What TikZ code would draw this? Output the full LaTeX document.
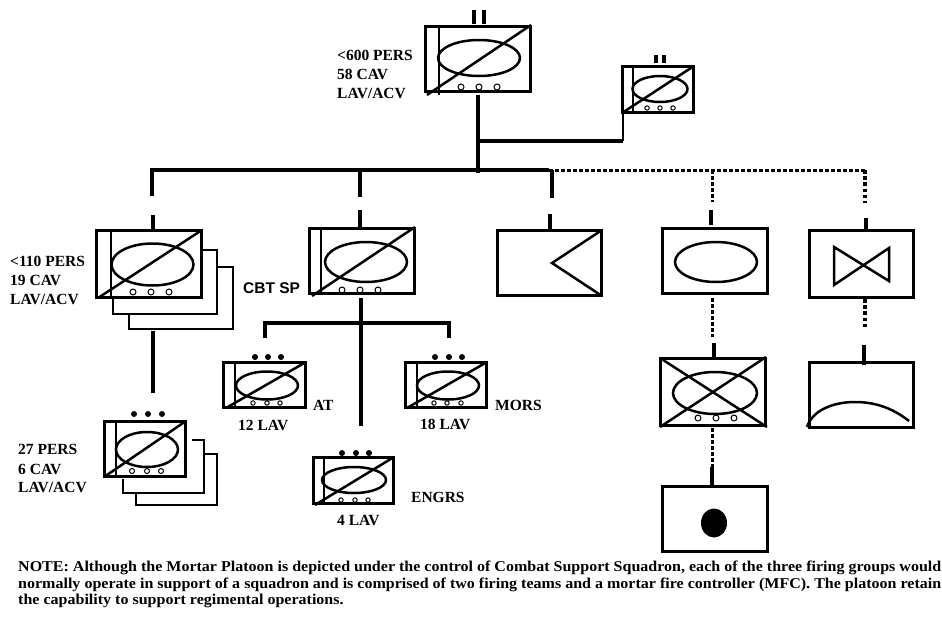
\documentclass[tikz,border=0pt]{standalone}
\usepackage{fontspec}
\setmainfont{Liberation Serif}
\newfontfamily\cbtfont{Liberation Sans}
\newcommand{\mkbox}[6][3]{%
  \node[unitframe,line width=#1pt,minimum width={(#5-#3-1)*1pt},minimum height={(#6-#4-1)*1pt}] (#2) at ({(#3+#5)/2},{(#4+#6)/2}) {};}
\newcommand{\mkoval}[4]{\draw[sym] (#1,#2) ellipse [x radius=#3,y radius=#4];}
\newcommand{\mkwheels}[5]{\foreach \wx in {#2,#3,#4}{\draw[wheel] (\wx,#1) circle [radius=#5];}}
\newcommand{\mkdots}[4]{\foreach \wx in {#2,#3,#4}{\fill (\wx,#1) circle [radius=3];}}
\tikzset{
  unitframe/.style={draw=black,rectangle,inner sep=0pt,outer sep=0pt},
  sym/.style={draw=black,line width=2.5pt},
  wheel/.style={draw=black,line width=1pt},
  backline/.style={draw=black,line width=2.4pt},
  solidlink/.style={draw=black,line width=3.4pt},
  dotlink/.style={draw=black,line width=3pt,dash pattern=on 3.6pt off 2.4pt},
  dotlinkb/.style={draw=black,line width=3.8pt,dash pattern=on 3.6pt off 2.6pt},
  lab/.style={anchor=west,inner sep=0pt,font=\fontsize{15.5}{17}\selectfont\bfseries},
  notelab/.style={anchor=west,inner sep=0pt,font=\fontsize{15}{16}\selectfont\bfseries},
}
\begin{document}
\begin{tikzpicture}[x=1pt,y=-1pt]
\useasboundingbox (0,0) rectangle (942,616);
% regimental HQ
\mkbox{reg}{425}{26}{531}{92}
\draw[sym] (439,26) -- (439,95);
\draw[sym] (427,95) -- (531,25);
\mkoval{479}{58}{41}{18}
\mkwheels{87}{461}{479}{497}{3}
\draw[line width=3.4pt] (474,10) -- (474,24) (484,10) -- (484,24);
% small HQ
\mkbox{rhq}{622}{66}{694}{113}
\draw[sym] (633,66) -- (633,113);
\draw[sym] (622,113) -- (694,66);
\mkoval{660}{89}{27.5}{13}
\mkwheels{108}{647}{660}{673}{2.2}
\draw[line width=3.2pt] (656,55) -- (656,63) (664,55) -- (664,63);
% squadron
\draw[backline] (202,250) -- (217,250) -- (217,314) -- (113,314) -- (113,298);
\draw[backline] (217,267) -- (233,267) -- (233,329) -- (129,329) -- (129,314);
\mkbox{sqn}{96}{230}{202}{298}
\draw[sym] (111,230) -- (111,298);
\draw[sym] (98,298) -- (202,230);
\mkoval{152.5}{264.5}{41}{21}
\mkwheels{292}{133}{151}{169}{3}
% troop
\draw[backline] (192,440) -- (204,440) -- (204,493) -- (123,493) -- (123,479);
\draw[backline] (204,454) -- (217,454) -- (217,505) -- (136,505) -- (136,493);
\mkbox{trp}{104}{421}{186}{477}
\draw[sym] (116,421) -- (116,477);
\draw[sym] (104,477) -- (186,421);
\mkoval{147}{449.5}{31}{17.5}
\mkwheels{471}{132}{147}{161}{2.5}
\mkdots{414}{134}{148}{162}{3}
% combat support
\mkbox{cbt}{309}{228}{415}{294}
\draw[sym] (321,228) -- (321,294);
\draw[sym] (312,296) -- (415,227);
\mkoval{366}{262}{41}{20}
\mkwheels{290}{342}{360}{378}{3}
% AT
\mkbox{at}{223}{362}{306}{408}
\draw[sym] (235,362) -- (235,408);
\draw[sym] (226,408) -- (306,362);
\mkoval{267}{385.5}{31}{14}
\mkwheels{403}{253}{267}{280}{2.2}
\mkdots{357}{255}{268}{281}{3}
% MORS
\mkbox{mors}{405}{362}{487}{408}
\draw[sym] (417,362) -- (417,408);
\draw[sym] (407,408) -- (487,362);
\mkoval{448}{385.5}{31}{14}
\mkwheels{403}{434}{447}{461}{2.2}
\mkdots{357}{435}{449}{462}{3}
% ENGRS
\mkbox{eng}{313}{457}{394}{504}
\draw[sym] (324,457) -- (324,504);
\draw[sym] (315,505) -- (394,457);
\mkoval{354}{480}{32}{13}
\mkwheels{500}{341}{355}{368}{2.2}
\mkdots{453}{342}{356}{369}{3}
% triangle box
\mkbox{tri}{497}{230}{602}{296}
\draw[sym] (602,230) -- (552,263) -- (602,296);
% oval box
\mkbox{ovl}{662}{228}{768}{294}
\mkoval{716}{262}{41}{20}
% crossed box
\mkbox{crs}{660}{358}{766}{426}
\draw[sym] (660,358) -- (767,427) (660,427) -- (766,357);
\mkoval{715}{393}{42}{21}
\mkwheels{418}{698}{716}{734}{3}
% dot box
\mkbox{dotb}{662}{486}{768}{552}
\fill (714,523) ellipse [x radius=13,y radius=14.5];
% bowtie box
\mkbox{bow}{809}{230}{914}{298}
\draw[sym] (834,247) -- (889,281) -- (889,248) -- (834,285) -- cycle;
% arc box
\mkbox{arc}{809}{362}{914}{428}
\draw[sym] (807,427) .. controls (812,411) and (832,402) .. (855,402) .. controls (878,402) and (895,410) .. (909,421);
% bus coordinates
\coordinate (rega) at (478,95);
\coordinate (j1) at (478,141);
\coordinate (j2) at (623,141);
\coordinate (m1) at (478,173);
\coordinate (bl) at (152,170);
\coordinate (bm) at (549,170);
\coordinate (br) at (865,170);
\coordinate (d1) at (152,196);
\coordinate (u1) at (153,215);
\coordinate (d2a) at (360,168);
\coordinate (d2) at (360,197);
\coordinate (u2) at (360,210);
\coordinate (d3a) at (552,170);
\coordinate (d3) at (552,198);
\coordinate (u3) at (550,214);
\coordinate (d4a) at (712,170);
\coordinate (d4) at (712,202);
\coordinate (u4) at (711,210);
\coordinate (d5) at (865,203);
\coordinate (u5) at (866,218);
% top connectors
\draw[solidlink] (rega) -- (m1);
\draw[solidlink] (j1) -- (j2);
\draw[draw=black,line width=2.4pt] (j2) -- (j2 |- rhq.south);
\draw[solidlink] (bl) -- (bm);
\draw[dotlink] (bm) -- (br);
\draw[solidlink] ([yshift=1.7pt]bl) -- (d1);
\draw[solidlink] (u1) -- (u1 |- sqn.north);
\draw[solidlink] (d2a) -- (d2);
\draw[solidlink] (u2) -- (u2 |- cbt.north);
\draw[solidlink] (d3a) -- (d3);
\draw[solidlink] (u3) -- (u3 |- tri.north);
\draw[dotlink] (d4a) -- (d4);
\draw[solidlink] (u4) -- ([yshift=4pt]u4 |- ovl.north);
\draw[dotlinkb] (br) -- (d5);
\draw[solidlink] (u5) -- (u5 |- bow.north);
% squadron to troop
\coordinate (s1) at (153,331);
\coordinate (s2) at (153,393);
\draw[solidlink] (s1) -- (s2);
% combat support children
\coordinate (c1) at (361,298);
\coordinate (c2) at (361,426);
\coordinate (tl) at (265,323);
\coordinate (tr) at (449,323);
\draw[draw=black,line width=4pt] (c1) -- (c2);
\draw[solidlink] ([xshift=-1.7pt]tl) -- ([xshift=1.7pt]tr);
\draw[solidlink] (tl) -- (265,338);
\draw[solidlink] (tr) -- (449,338);
% right column
\coordinate (o1) at (712,298);
\coordinate (o2) at (712,337);
\coordinate (o3) at (714,343);
\draw[dotlink] (o1) -- (o2);
\draw[solidlink] (o3) -- (o3 |- crs.north);
\coordinate (x1) at (712,428);
\coordinate (x2) at (712,467);
\draw[dotlink] (x1) -- (x2);
\draw[solidlink] (x2) -- (x2 |- dotb.north);
\coordinate (b1) at (865,299);
\coordinate (b2) at (865,329);
\coordinate (b3) at (864,345);
\draw[dotlinkb] (b1) -- (b2);
\draw[solidlink] (b3) -- (864,365);
% labels
\node[lab] (t1) at (337,55) {<600 PERS};
\node[lab] (t2) at (337,74) {58 CAV};
\node[lab] (t3) at (337,93) {LAV/ACV};
\node[lab] (t4) at (10,261) {<110 PERS};
\node[lab] (t5) at (10,280) {19 CAV};
\node[lab] (t6) at (10,299) {LAV/ACV};
\node[lab,font=\fontsize{15.5}{17}\selectfont\bfseries\cbtfont] (t7) at (243,288) {CBT SP};
\node[lab] (t8) at (18,449) {27 PERS};
\node[lab] (t9) at (18,469) {6 CAV};
\node[lab] (t10) at (18,487) {LAV/ACV};
\node[lab] (t11) at (313,405) {AT};
\node[lab] (t12) at (238,425) {12 LAV};
\node[lab] (t13) at (495,405) {MORS};
\node[lab] (t14) at (420,424) {18 LAV};
\node[lab] (t15) at (411,497) {ENGRS};
\node[lab] (t16) at (337,520) {4 LAV};
\node[notelab] (n1) at (18,568) {\scalebox{1.068}[1]{NOTE: Although the Mortar Platoon is depicted under the control of Combat Support Squadron, each of the three firing groups  would}};
\node[notelab] (n2) at (18,585) {\scalebox{1.068}[1]{normally operate in support of a squadron and is comprised of two firing teams and a mortar fire controller (MFC). The platoon retain}};
\node[notelab] (n3) at (18,601) {\scalebox{1.068}[1]{the capability to support regimental operations.}};
\end{tikzpicture}
\end{document}
